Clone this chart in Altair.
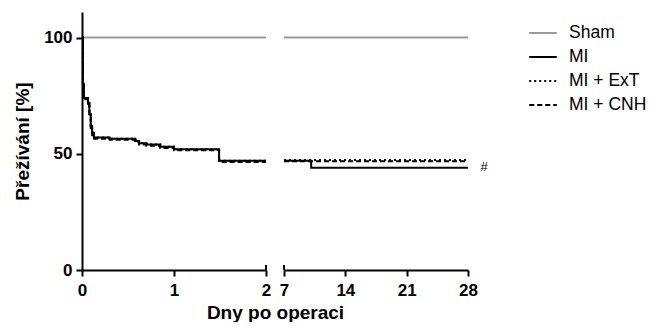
import altair as alt
import pandas as pd

groups = ["Sham", "MI", "MI + ExT", "MI + CNH"]

# Early period (days 0-2)
sham_t1 = [0, 2]
sham_v1 = [100, 100]
mi_t1 = [0, 0.01, 0.02, 0.065, 0.08, 0.095, 0.11, 0.13, 0.30, 0.58, 0.62, 0.70, 0.85, 1.0, 1.49, 2.0]
mi_v1 = [100, 80, 74, 72, 67, 62, 59, 57, 56.5, 55.5, 54.5, 54, 53, 52, 47, 47]
ext_t1 = [0, 0.01, 0.02, 0.065, 0.08, 0.095, 0.11, 0.13, 0.30, 0.58, 0.62, 0.70, 0.85, 1.0, 1.49, 2.0]
ext_v1 = [100, 80, 74, 72, 67, 62, 59, 57, 56.5, 55.5, 54.5, 54, 53, 52, 47, 47]
cnh_t1 = [0, 0.01, 0.02, 0.065, 0.08, 0.095, 0.11, 0.13, 0.30, 0.58, 0.62, 0.70, 0.85, 1.0, 1.49, 2.0]
cnh_v1 = [100, 80, 73.5, 71.5, 66, 61, 58, 56.5, 56, 55, 54, 53.5, 52.5, 51.5, 46.5, 46.5]

# Late period (days 7-28)
sham_t2 = [7, 28]
sham_v2 = [100, 100]
mi_t2 = [7, 10.1, 28]
mi_v2 = [47, 44, 44]
ext_t2 = [7, 28]
ext_v2 = [47.3, 47.3]
cnh_t2 = [7, 28]
cnh_v2 = [46.8, 46.8]

ticks1 = [0, 1, 2]
ticks2 = [7, 14, 21, 28]
yticks = [0, 50, 100]
break_left = [2]
break_right = [7]
break_height = 2.2


def frame(series):
    rows = []
    for g, ts, vs in series:
        for t, v in zip(ts, vs):
            rows.append({"group": g, "t": t, "v": v})
    return pd.DataFrame(rows)


df1 = frame([("Sham", sham_t1, sham_v1), ("MI", mi_t1, mi_v1),
             ("MI + ExT", ext_t1, ext_v1), ("MI + CNH", cnh_t1, cnh_v1)])
df2 = frame([("Sham", sham_t2, sham_v2), ("MI", mi_t2, mi_v2),
             ("MI + ExT", ext_t2, ext_v2), ("MI + CNH", cnh_t2, cnh_v2)])

FONT = "Liberation Sans"
color = alt.Color("group:N", scale=alt.Scale(domain=groups, range=["#999999", "#000000", "#000000", "#000000"]),
                  legend=alt.Legend(title=None, orient="right", symbolType="stroke", symbolSize=760,
                                    symbolStrokeWidth=2, labelFont=FONT, labelFontSize=17.5,
                                    labelColor="black", rowPadding=0, labelOffset=11, offset=34,
                                    padding=6))
dash = alt.StrokeDash("group:N", scale=alt.Scale(domain=groups, range=[[1, 0], [1, 0], [2, 3], [5, 3]]))
yscale = alt.Scale(domain=[0, 111], nice=False)
W, H = 184, 258

xs1 = alt.Scale(domain=[0, 2], nice=False)
xs2 = alt.Scale(domain=[7, 28], nice=False)

left_lines = alt.Chart(df1).mark_line(interpolate="step-after", strokeWidth=2).encode(
    x=alt.X("t:Q", scale=xs1,
            axis=alt.Axis(values=ticks1, tickCount=20, tickMinStep=0.1, title="Dny po operaci", titleX=193,
                          titlePadding=5, format="d", labelFlush=False, labelOverlap=False)),
    y=alt.Y("v:Q", scale=yscale, axis=alt.Axis(values=yticks, title="Přežívání [%]", titlePadding=11,
                                               labelPadding=4)),
    color=color, strokeDash=dash, order=alt.Order("t:Q"),
)
left_break = alt.Chart(pd.DataFrame({"t": break_left, "v": [0], "v2": [break_height]})).mark_rule(
    color="black", strokeWidth=2).encode(x="t:Q", y="v:Q", y2="v2:Q")
left = alt.layer(left_lines, left_break).properties(width=W, height=H)

hash_df = pd.DataFrame({"t": [28], "v": [44], "label": ["#"]})

right_lines = alt.Chart(df2).mark_line(interpolate="step-after", strokeWidth=2).encode(
    x=alt.X("t:Q", scale=xs2,
            axis=alt.Axis(values=ticks2, tickCount=20, title=None, format="d", labelFlush=False,
                          labelOverlap=False)),
    y=alt.Y("v:Q", scale=yscale, axis=None),
    color=color, strokeDash=dash, order=alt.Order("t:Q"),
)
right_break = alt.Chart(pd.DataFrame({"t": break_right, "v": [0], "v2": [break_height]})).mark_rule(
    color="black", strokeWidth=2).encode(x="t:Q", y="v:Q", y2="v2:Q")
right_hash = alt.Chart(hash_df).mark_text(font=FONT, fontSize=13, dx=16, dy=-1, color="black").encode(
    x="t:Q", y="v:Q", text="label:N")
right = alt.layer(right_lines, right_break, right_hash).properties(width=W, height=H)

chart = alt.hconcat(left, right, spacing=18, bounds="flush").properties(
    padding={"left": 5, "top": 4, "right": 0, "bottom": 0}
).configure_view(stroke=None).configure_axis(
    domainColor="black", domainWidth=2, tickColor="black", tickWidth=2, tickSize=6,
    labelFont=FONT, labelFontSize=17, labelFontWeight="bold", labelColor="black", labelPadding=6,
    titleFont=FONT, titleFontSize=19, titleFontWeight="bold", titleColor="black", grid=False,
)

chart.save("out.html", embed_options={"renderer": "svg", "actions": False})
